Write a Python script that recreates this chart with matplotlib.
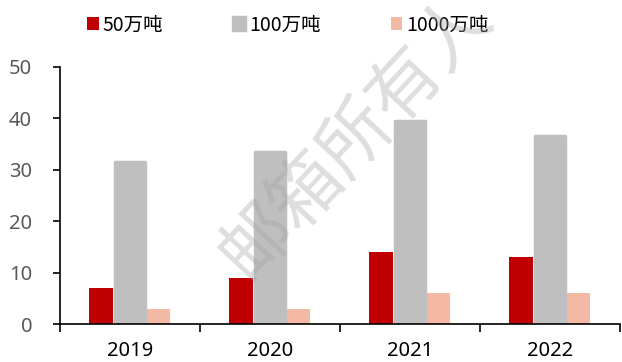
import numpy as np
import matplotlib.pyplot as plt
from matplotlib.ticker import FixedLocator

plt.rcParams['font.family'] = ['Noto Sans CJK SC', 'DejaVu Sans']

years = ["2019", "2020", "2021", "2022"]
cap_50 = [7, 9, 14, 13]
cap_100 = [31.5, 33.5, 39.5, 36.5]
cap_1000 = [3, 3, 6, 6]
series_names = ["50万吨", "100万吨", "1000万吨"]

fig = plt.figure(figsize=(6.22, 3.62), dpi=100)
ax = fig.add_axes([60 / 622, 1 - 324 / 362, 560 / 622, 257 / 362])

x = np.arange(len(years))
b1 = ax.bar(x - 0.207, cap_50, width=0.17, color="#c00000", zorder=2)
b3 = ax.bar(x + 0.19, cap_1000, width=0.19, color="#f4b9a5", zorder=2)
b2 = ax.bar(x, cap_100, width=0.22, color="#bfbfbf", edgecolor="#bfbfbf",
            linewidth=2.5, joinstyle="round", zorder=3)

ax.set_xlim(-0.5, len(years) - 0.5)
ax.set_ylim(0, 50)
ax.set_yticks(range(0, 51, 10))
ax.set_xticks(x)
ax.set_xticklabels(years, fontfamily="Noto Sans")
ax.set_yticklabels([str(v) for v in range(0, 51, 10)], fontfamily="Noto Sans")
ax.xaxis.set_minor_locator(FixedLocator(np.arange(-0.5, len(years), 1.0)))
ax.tick_params(axis="x", which="major", length=0, labelsize=14.5, pad=12, colors="black")
ax.tick_params(axis="x", which="minor", length=6, width=1.2, direction="out")
ax.tick_params(axis="y", length=5, width=1.2, direction="out", labelsize=14.5,
               labelcolor="#595959", pad=15)
for s in ["top", "right"]:
    ax.spines[s].set_visible(False)
for s in ["left", "bottom"]:
    ax.spines[s].set_linewidth(1.2)
    ax.spines[s].set_zorder(4)

fig.legend([b1, b2, b3], series_names, loc="center", ncol=3,
           bbox_to_anchor=(288 / 622, 1 - 25 / 362), frameon=False,
           fontsize=14, handlelength=0.6, handleheight=0.6,
           handletextpad=0.2, columnspacing=3.6)

# watermark
fig.text(356 / 622, 1 - 136 / 362, "邮箱所有人", fontsize=52, color="#a0a0a0",
         alpha=0.35, rotation=47, ha="center", va="center", zorder=10,
         fontweight="light")

fig.savefig("out.png", dpi=100)
